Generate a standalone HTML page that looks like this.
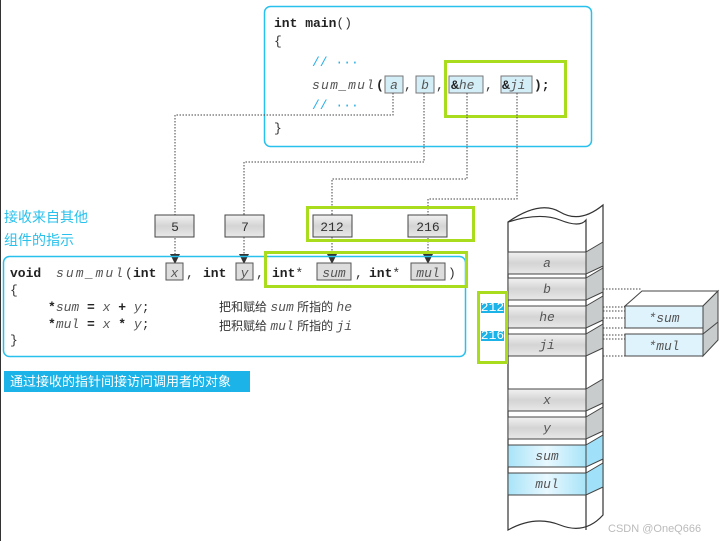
<!DOCTYPE html>
<html><head><meta charset="utf-8"><style>
body{margin:0;background:#fff}
svg{display:block}
.m{font-family:"Liberation Mono",monospace;font-size:13px;fill:#333}
.b{font-weight:bold;fill:#222}
.i{font-style:italic;fill:#555}
.c{font-family:"Liberation Sans","Noto Sans CJK SC",sans-serif}
.d{stroke:#444;stroke-width:1;stroke-dasharray:1.5 1.5;fill:none}
</style></head><body>
<svg width="720" height="541" viewBox="0 0 720 541" xmlns="http://www.w3.org/2000/svg">
<defs>
<linearGradient id="g" x1="0" y1="0" x2="0" y2="1"><stop offset="0" stop-color="#f2f2f2"/><stop offset=".5" stop-color="#d4d4d4"/><stop offset="1" stop-color="#e8e8e8"/></linearGradient>
<linearGradient id="bl" x1="0" y1="0" x2="1" y2="0"><stop offset="0" stop-color="#a8e4f8"/><stop offset=".5" stop-color="#e8f8ff"/><stop offset="1" stop-color="#a8e4f8"/></linearGradient>
</defs>
<line x1="0.5" y1="0" x2="0.5" y2="541" stroke="#333"/>
<!-- main box -->
<rect x="264.5" y="6.5" width="327" height="140" rx="6" fill="none" stroke="#28c0ec" stroke-width="1.5"/>
<text x="274" y="27" class="m b">int main<tspan class="m" font-weight="normal">()</tspan></text>
<text x="274" y="45" class="m">{</text>
<text x="312" y="66" class="m" style="fill:#28b0e8">// ···</text>
<text x="312" y="89" class="m i" textLength="62" lengthAdjust="spacing">sum_mul</text><text x="376" y="89" class="m b">(</text>
<rect x="385" y="76" width="18" height="17" fill="#d4eef8" stroke="#777"/>
<text x="394" y="89" class="m i" text-anchor="middle">a</text><text x="404" y="89" class="m">,</text>
<rect x="416" y="76" width="18" height="17" fill="#d4eef8" stroke="#777"/>
<text x="425" y="89" class="m i" text-anchor="middle">b</text><text x="436" y="89" class="m">,</text>
<rect x="449" y="76" width="34" height="17" fill="#d4eef8" stroke="#777"/>
<text x="451" y="89" class="m"><tspan class="b">&amp;</tspan><tspan class="i">he</tspan></text><text x="485" y="89" class="m">,</text>
<rect x="501" y="76" width="31" height="17" fill="#d4eef8" stroke="#777"/>
<text x="502" y="89" class="m"><tspan class="b">&amp;</tspan><tspan class="i">ji</tspan></text><text x="534" y="89" class="m b">);</text>
<text x="312" y="109" class="m" style="fill:#28b0e8">// ···</text>
<text x="274" y="132" class="m">}</text>
<rect x="445.5" y="61.5" width="120" height="55" fill="none" stroke="#a8dc1c" stroke-width="3"/>
<!-- dotted connectors -->
<path class="d" d="M393,93 V115 H175 V255"/>
<path class="d" d="M424,93 V162 H244 V255"/>
<path class="d" d="M467,93 V179 H332 V255"/>
<path class="d" d="M517,93 V199 H428 V255"/>
<g fill="#333">
<path d="M170,254 H180 L175,264Z"/><path d="M239,254 H249 L244,264Z"/>
<path d="M327,254 H337 L332,264Z"/><path d="M423,254 H433 L428,264Z"/>
</g>
<!-- value boxes -->
<g class="m" text-anchor="middle">
<rect x="155" y="215" width="39" height="22" fill="url(#g)" stroke="#444"/><text x="175" y="231">5</text>
<rect x="225" y="215" width="39" height="22" fill="url(#g)" stroke="#444"/><text x="245" y="231">7</text>
<rect x="313" y="215" width="39" height="22" fill="url(#g)" stroke="#444"/><text x="332" y="231">212</text>
<rect x="408" y="215" width="39" height="22" fill="url(#g)" stroke="#444"/><text x="428" y="231">216</text>
</g>
<rect x="307.5" y="207.5" width="166" height="33" fill="none" stroke="#a8dc1c" stroke-width="3"/>
<text x="4" y="222" class="c" font-size="14" fill="#28c0ec">接收来自其他</text>
<text x="4" y="245" class="c" font-size="14" fill="#28c0ec">组件的指示</text>
<!-- function box -->
<rect x="3.5" y="256.5" width="462" height="100" rx="6" fill="none" stroke="#28c0ec" stroke-width="1.5"/>
<rect x="166" y="263" width="17" height="17" fill="#ddd" stroke="#555"/>
<rect x="236" y="263" width="17" height="17" fill="#ddd" stroke="#555"/>
<rect x="317" y="263" width="34" height="17" fill="#ddd" stroke="#555"/>
<rect x="411" y="263" width="34" height="17" fill="#ddd" stroke="#555"/>
<text x="10" y="277" class="m b">void</text>
<text x="56" y="277" class="m i" textLength="67" lengthAdjust="spacing">sum_mul</text>
<text x="125" y="277" class="m">(</text>
<text x="133" y="277" class="m b">int</text>
<text x="174.5" y="277" class="m i" text-anchor="middle">x</text>
<text x="186" y="277" class="m">,</text>
<text x="203" y="277" class="m b">int</text>
<text x="244.5" y="277" class="m i" text-anchor="middle">y</text>
<text x="256" y="277" class="m">,</text>
<text x="272" y="277" class="m"><tspan class="b">int</tspan>*</text>
<text x="334" y="277" class="m i" text-anchor="middle">sum</text>
<text x="355" y="277" class="m">,</text>
<text x="369" y="277" class="m"><tspan class="b">int</tspan>*</text>
<text x="428" y="277" class="m i" text-anchor="middle">mul</text>
<text x="448" y="277" class="m">)</text>
<text x="10" y="294" class="m">{</text>
<text x="48" y="311" class="m"><tspan class="b">*</tspan><tspan class="i">sum</tspan> <tspan class="b">=</tspan> <tspan class="i">x</tspan> <tspan class="b">+</tspan> <tspan class="i">y</tspan>;</text>
<text x="48" y="328" class="m"><tspan class="b">*</tspan><tspan class="i">mul</tspan> <tspan class="b">=</tspan> <tspan class="i">x</tspan> <tspan class="b">*</tspan> <tspan class="i">y</tspan>;</text>
<text x="10" y="344" class="m">}</text>
<text x="219" y="311" class="c" font-size="12" fill="#333">把和赋给 <tspan class="m i" font-size="12">sum</tspan> 所指的 <tspan class="m i" font-size="12">he</tspan></text>
<text x="219" y="330" class="c" font-size="12" fill="#333">把积赋给 <tspan class="m i" font-size="12">mul</tspan> 所指的 <tspan class="m i" font-size="12">ji</tspan></text>
<rect x="265.5" y="252.5" width="201" height="34" fill="none" stroke="#a8dc1c" stroke-width="3"/>
<rect x="4" y="371" width="246" height="21" fill="#1cb4e8"/>
<text x="10" y="386" class="c" font-size="13" fill="#fff">通过接收的指针间接访问调用者的对象</text>
<!-- memory column -->
<path d="M508,222 Q540,200 560,212 T603,205 V515 Q585,535 560,525 T508,530 Z" fill="#fff" stroke="#333" stroke-width="1.2"/>
<path d="M508,222 Q540,212 560,220 T586,220 V530" fill="none" stroke="#333" stroke-width="1.2"/>
<g stroke="#444" stroke-width="1">
<g fill="url(#g)">
<rect x="508" y="252" width="78" height="22"/><rect x="508" y="278" width="78" height="22"/>
<rect x="508" y="306" width="78" height="22"/><rect x="508" y="334" width="78" height="22"/>
<rect x="508" y="389" width="78" height="22"/><rect x="508" y="417" width="78" height="22"/>
</g>
<rect x="508" y="445" width="78" height="22" fill="url(#bl)"/><rect x="508" y="473" width="78" height="22" fill="url(#bl)"/>
<g fill="#c8cccc">
<path d="M586,252 L603,242 V266 L586,274Z"/><path d="M586,278 L603,268 V292 L586,300Z"/>
<path d="M586,306 L603,296 V320 L586,328Z"/><path d="M586,334 L603,324 V348 L586,356Z"/>
<path d="M586,389 L603,379 V403 L586,411Z"/><path d="M586,417 L603,407 V431 L586,439Z"/>
</g>
<g fill="#a0e0f8">
<path d="M586,445 L603,435 V459 L586,467Z"/><path d="M586,473 L603,463 V487 L586,495Z"/>
</g>
</g>
<g class="m i" text-anchor="middle" font-size="13">
<text x="547" y="267">a</text><text x="547" y="293">b</text><text x="547" y="321">he</text><text x="547" y="349">ji</text>
<text x="547" y="404">x</text><text x="547" y="432">y</text><text x="547" y="460">sum</text><text x="547" y="488">mul</text>
</g>
<rect x="478.5" y="292.5" width="28" height="70" fill="none" stroke="#a8dc1c" stroke-width="3"/>
<rect x="481" y="303" width="23" height="10" fill="#1cb4e8"/><text x="492.5" y="311" class="m" font-size="8" style="fill:#fff" text-anchor="middle">212</text>
<rect x="481" y="331" width="23" height="10" fill="#1cb4e8"/><text x="492.5" y="339" class="m" font-size="8" style="fill:#fff" text-anchor="middle">216</text>
<!-- pointer targets -->
<g class="d"><path d="M603,289 H642"/><path d="M603,307 H625"/><path d="M603,311 H625"/><path d="M603,318 H625"/><path d="M603,328 H625"/><path d="M603,335 H625"/><path d="M603,339 H625"/><path d="M603,356 H625"/></g>
<g stroke="#444" stroke-width="1">
<path d="M625,306 L642,291 H718 L703,306Z" fill="#fff"/>
<path d="M703,306 L718,291 V340 L703,356Z" fill="#c8cccc"/>
<rect x="625" y="306" width="78" height="22" fill="#dff3fc"/>
<rect x="625" y="334" width="78" height="22" fill="#dff3fc"/>
<path d="M703,334 L718,322" fill="none"/>
</g>
<text x="664" y="322" class="m i" text-anchor="middle">*sum</text>
<text x="664" y="350" class="m i" text-anchor="middle">*mul</text>
<text x="608" y="532" class="c" font-size="11" fill="#bbb">CSDN @OneQ666</text>
</svg>
</body></html>
